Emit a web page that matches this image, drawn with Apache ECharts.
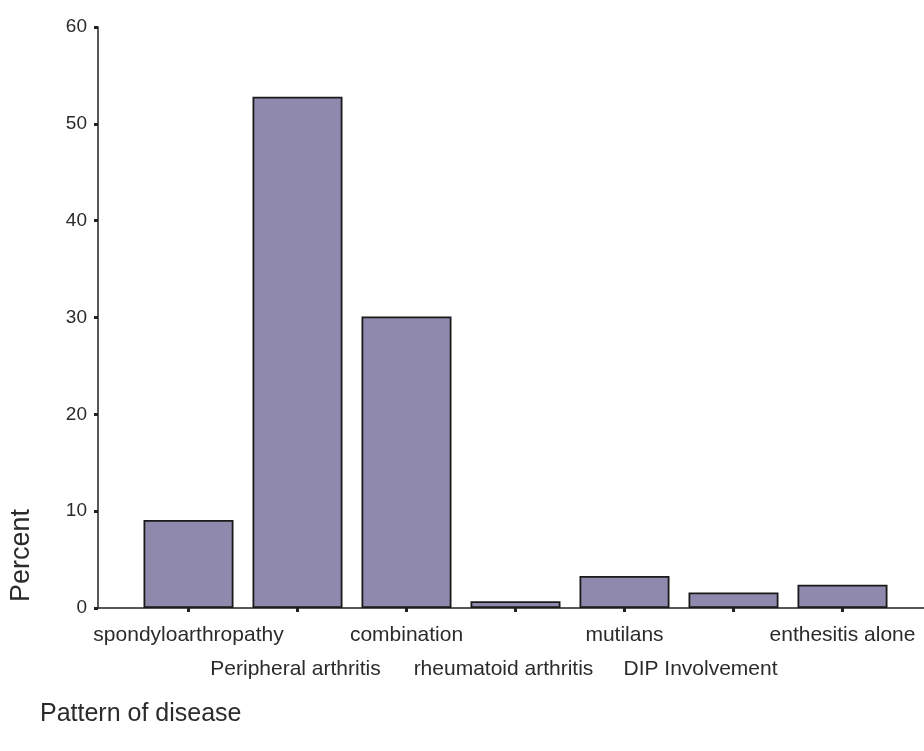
<!DOCTYPE html>
<html>
<head>
<meta charset="utf-8">
<script src="https://cdn.jsdelivr.net/npm/echarts@6/dist/echarts.min.js"></script>
<style>
html,body{margin:0;padding:0;background:#fff;}
#c{width:924px;height:751px;}
</style>
</head>
<body>
<div id="c"></div>
<script>
const categories = ["spondyloarthropathy", "Peripheral arthritis", "combination", "rheumatoid arthritis", "mutilans", "DIP Involvement", "enthesitis alone"];
const percentValues = [9.1, 52.8, 30.1, 0.7, 3.3, 1.6, 2.4];
const yTicks = [0, 10, 20, 30, 40, 50, 60];

const FONT = '"Liberation Sans", Arial, sans-serif';
const TXT = '#2b2b2b';
// label horizontal nudges (style only)
const labelShiftRight = [0, 4, 0, 24, 0, 66, 0];
const LBL = 21;

const chart = echarts.init(document.getElementById('c'), null, {renderer: 'canvas'});
chart.setOption({
  backgroundColor: '#ffffff',
  animation: false,
  textStyle: {fontFamily: FONT},
  title: {
    text: 'Pattern of disease',
    left: 35, top: 697,
    textStyle: {fontFamily: FONT, fontSize: 25, fontWeight: 'normal', color: TXT}
  },
  graphic: [{
    type: 'text',
    left: 8, top: 509,
    rotation: Math.PI / 2,
    style: {text: 'Percent', fontFamily: FONT, fontSize: 27, fill: TXT}
  }],
  grid: [
    {left: 134, right: 27, top: 27, bottom: 143, containLabel: false},
    {left: 98, right: 0, top: 27, bottom: 143, containLabel: false}
  ],
  xAxis: [{
    type: 'category',
    gridIndex: 0,
    data: categories,
    axisLine: {show: false},
    axisTick: {show: true, alignWithLabel: true, length: 4, inside: false, lineStyle: {color: '#222', width: 3}},
    axisLabel: {
      interval: 0,
      margin: 17,
      color: TXT,
      fontSize: LBL,
      fontFamily: FONT,
      formatter: function (v, i) {
        return (i % 2 === 0 ? '{a|' : '{b' + i + '|') + v + '}';
      },
      rich: (function () {
        const r = {a: {fontSize: LBL, fontFamily: FONT, color: TXT}};
        for (let i = 1; i < 7; i += 2) {
          r['b' + i] = {fontSize: LBL, fontFamily: FONT, color: TXT, padding: [34, labelShiftRight[i], 0, 0]};
        }
        return r;
      })()
    }
  }, {
    type: 'value',
    gridIndex: 1,
    min: 0, max: 1,
    axisLine: {show: true, lineStyle: {color: '#222', width: 1.5}},
    axisTick: {show: false},
    axisLabel: {show: false},
    splitLine: {show: false}
  }],
  yAxis: [{
    type: 'value',
    gridIndex: 0,
    min: 0, max: 60, interval: 10,
    offset: 36,
    axisLine: {show: true, lineStyle: {color: '#222', width: 1.5}},
    axisTick: {show: true, length: 4, lineStyle: {color: '#222', width: 3}},
    axisLabel: {
      margin: 11, color: TXT, fontSize: 19, fontFamily: FONT,
      formatter: function (v) { return yTicks.indexOf(v) >= 0 ? String(v) : ''; }
    },
    splitLine: {show: false}
  }, {
    type: 'value',
    gridIndex: 1,
    show: false,
    min: 0, max: 1
  }],
  series: [{
    type: 'bar',
    xAxisIndex: 0, yAxisIndex: 0,
    data: percentValues,
    barWidth: 90,
    itemStyle: {color: '#8f8aad', borderColor: '#1a1a1a', borderWidth: 1.8}
  }]
});
</script>
</body>
</html>
